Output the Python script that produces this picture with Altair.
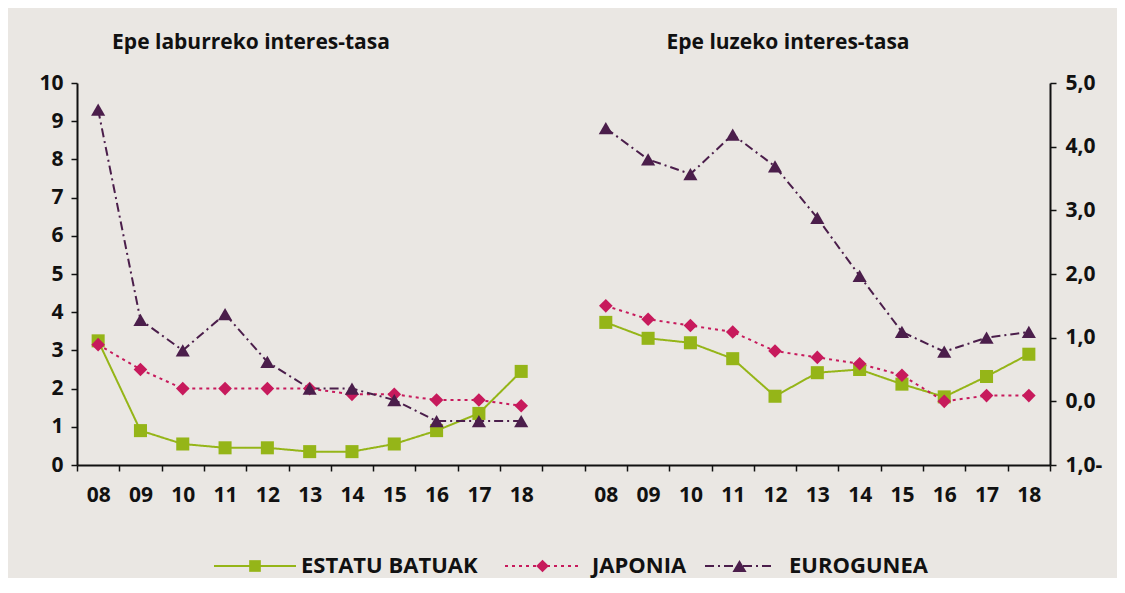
import altair as alt
import pandas as pd

years = ["08", "09", "10", "11", "12", "13", "14", "15", "16", "17", "18"]
series = ["ESTATU BATUAK", "JAPONIA", "EUROGUNEA"]

short_us = [3.25, 0.9, 0.55, 0.45, 0.45, 0.35, 0.35, 0.55, 0.9, 1.35, 2.45]
short_jp = [3.15, 2.5, 2.0, 2.0, 2.0, 2.0, 1.85, 1.85, 1.7, 1.7, 1.55]
short_ez = [9.3, 3.8, 3.0, 3.95, 2.7, 2.0, 2.0, 1.7, 1.15, 1.15, 1.15]

long_us = [1.24, 0.99, 0.92, 0.67, 0.08, 0.45, 0.5, 0.27, 0.07, 0.39, 0.74]
long_jp = [1.5, 1.29, 1.19, 1.09, 0.79, 0.69, 0.59, 0.41, 0.0, 0.09, 0.09]
long_ez = [4.29, 3.8, 3.57, 4.19, 3.69, 2.88, 1.97, 1.09, 0.78, 1.0, 1.09]

left_title = "Epe laburreko interes-tasa"
right_title = "Epe luzeko interes-tasa"

colors = ["#95B518", "#C71A5C", "#4B1E4B"]
dashes = [[1, 0], [3, 4], [9, 4, 2, 4]]
shapes = ["square", "diamond", "triangle-up"]
sizes = [170, 200, 250]

FONT = "Open Sans"
BG = "#EAE7E3"

cats = ["L" + y for y in years] + ["gap"] + ["R" + y for y in years]

rows = []
for panel, vals in (("L", [short_us, short_jp, short_ez]), ("R", [long_us, long_jp, long_ez])):
    for s, v in zip(series, vals):
        for y, val in zip(years, v):
            rows.append({"cat": panel + y, "series": s, "value": val, "panel": panel})
df = pd.DataFrame(rows)

xscale = alt.Scale(type="band", domain=cats, paddingInner=0, paddingOuter=0)
cscale = alt.Scale(domain=series, range=colors)
dscale = alt.Scale(domain=series, range=dashes)
sscale = alt.Scale(domain=series, range=shapes)
zscale = alt.Scale(domain=series, range=sizes)

label_style = dict(labelFont=FONT, labelFontSize=21, labelFontWeight="bold", labelColor="#111111")

x_axis = alt.Axis(
    tickBand="extent",
    labelExpr="test(regexp('^[LR][0-9][0-9]$'), '' + datum.value) ? substring('' + datum.value, 1) : ''",
    domainColor="#111111", domainWidth=2, tickColor="#111111", tickWidth=1.5, tickSize=6,
    labelPadding=13, labelAngle=0, title=None, grid=False, **label_style,
)


def panel_layer(panel, ydomain, axis):
    base = alt.Chart(df[df.panel == panel]).encode(
        x=alt.X("cat:N", scale=xscale, axis=x_axis, sort=cats),
        y=alt.Y("value:Q", scale=alt.Scale(domain=ydomain, nice=False, zero=False), axis=axis),
        color=alt.Color("series:N", scale=cscale, legend=None),
    )
    lines = base.mark_line(strokeWidth=2).encode(
        strokeDash=alt.StrokeDash("series:N", scale=dscale, legend=None),
        order=alt.Order("cat:N"),
    )
    points = base.mark_point(filled=True, opacity=1).encode(
        shape=alt.Shape("series:N", scale=sscale, legend=None),
        size=alt.Size("series:N", scale=zscale, legend=None),
    )
    return alt.layer(lines, points)


left_axis = alt.Axis(
    orient="left", values=list(range(0, 11)), title=None, grid=False,
    domainColor="#111111", domainWidth=2, tickColor="#111111", tickWidth=1.5, tickSize=6,
    labelPadding=8, **label_style,
)
right_axis = alt.Axis(
    orient="right", values=[-1, 0, 1, 2, 3, 4, 5], title=None, grid=False,
    labelExpr="datum.value < 0 ? replace(format(-datum.value, '.1f'), '.', ',') + '-' : replace(format(datum.value, '.1f'), '.', ',')",
    domainColor="#111111", domainWidth=2, tickColor="#111111", tickWidth=1.5, tickSize=6,
    labelPadding=9, **label_style,
)

left = panel_layer("L", [0, 10], left_axis)
right = panel_layer("R", [-1, 5], right_axis)

title_layers = []
for txt, xpos in ((left_title, 174), (right_title, 711)):
    title_layers.append(
        alt.Chart(pd.DataFrame({"t": [txt]})).mark_text(
            font=FONT, fontSize=21, fontWeight="bold", color="#111111", align="center", baseline="middle"
        ).encode(x=alt.value(xpos), y=alt.value(-40), text="t:N")
    )

legend_layers = []
leg_y = 483
leg_line = [(137, 219), (428, 503), (628, 697)]
leg_text_x = [224, 515, 712]
for i, s in enumerate(series):
    one = pd.DataFrame({"series": [s]})
    x0, x1 = leg_line[i]
    legend_layers.append(
        alt.Chart(one).mark_rule(color=colors[i], strokeDash=dashes[i], strokeWidth=2).encode(
            x=alt.value(x0), x2=alt.value(x1), y=alt.value(leg_y)
        )
    )
    legend_layers.append(
        alt.Chart(one).mark_point(shape=shapes[i], filled=True, opacity=1, color=colors[i], size=sizes[i] * 0.8).encode(
            x=alt.value((x0 + x1) / 2), y=alt.value(leg_y)
        )
    )
    legend_layers.append(
        alt.Chart(one).mark_text(
            font=FONT, fontSize=22, fontWeight="bold", color="#111111", align="left", baseline="middle"
        ).encode(x=alt.value(leg_text_x[i]), y=alt.value(leg_y), text="series:N")
    )

chart = alt.layer(left, right, *title_layers, *legend_layers).resolve_scale(y="independent").properties(
    width=973, height=382,
    autosize=alt.AutoSizeParams(type="none"),
    padding={"left": 69, "top": 75, "right": 67, "bottom": 113},
    background=BG,
).configure_view(stroke=None)

chart.save("out.html", embed_options={"renderer": "svg", "actions": False})
